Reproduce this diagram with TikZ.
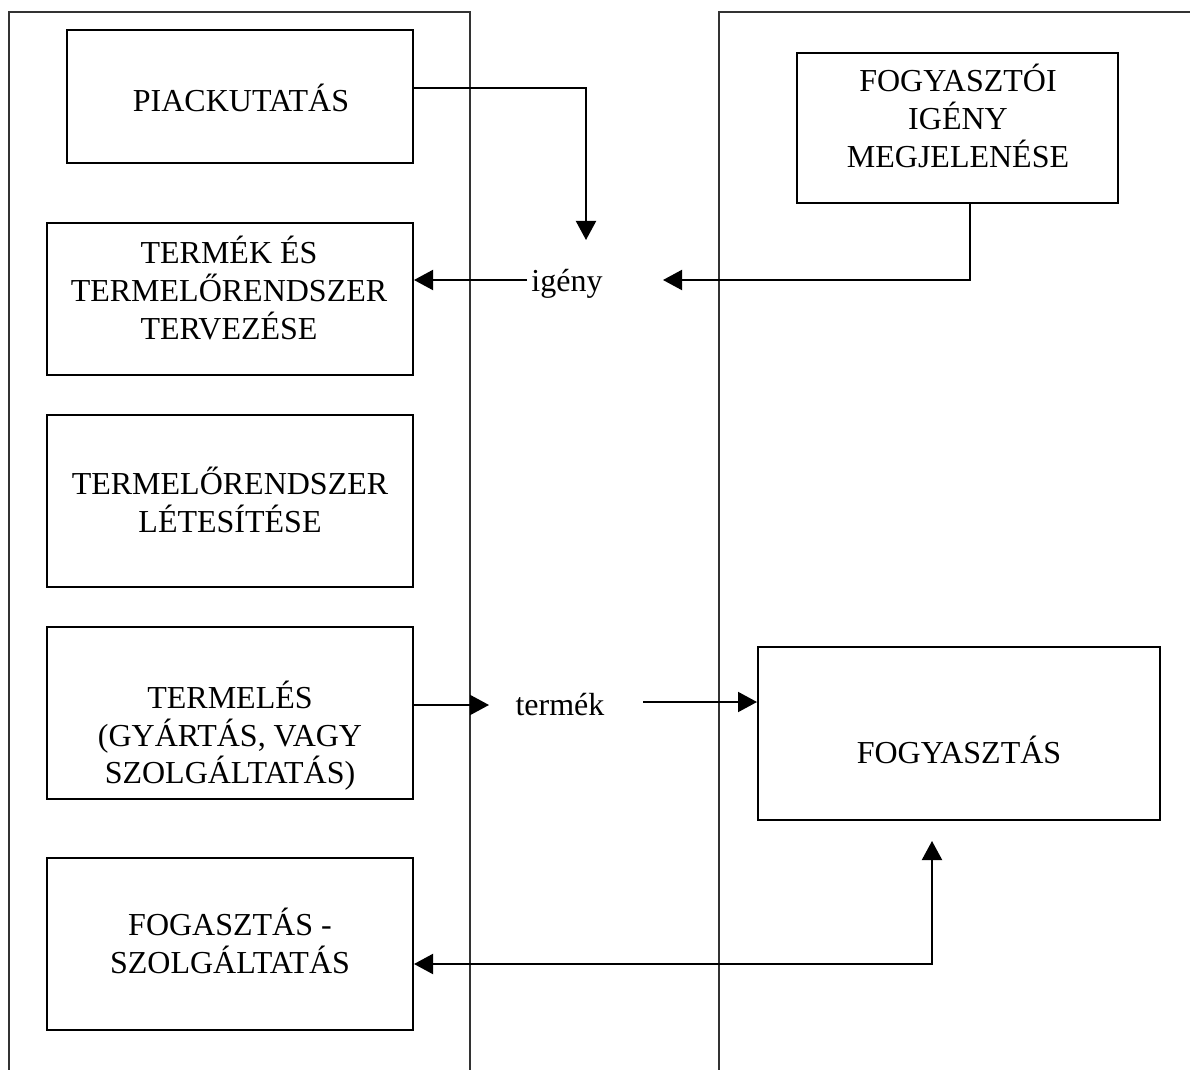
\documentclass[tikz,border=0pt]{standalone}
\usepackage{fontspec}
\setmainfont{Liberation Serif}
\usetikzlibrary{arrows.meta}
\begin{document}
\begin{tikzpicture}[x=0.5pt,y=-0.5pt,
  box/.style={draw,line width=1pt,inner sep=0pt,rectangle},
  txt/.style={align=center,font=\fontsize{16}{18.8}\selectfont,inner sep=0pt},
  lbl/.style={font=\fontsize{16}{18.8}\selectfont,inner sep=2pt},
  panel/.style={draw=black!80,line width=0.9pt},
  arr/.style={line width=1pt,-{Triangle[length=9.5pt,width=10pt]}},
  arrb/.style={line width=1pt,{Triangle[length=9.5pt,width=10pt]}-{Triangle[length=9.5pt,width=10pt]}}]
\useasboundingbox (0,0) rectangle (1190,1070);
\fill[white] (0,0) rectangle (1190,1070);
% panels
\draw[panel] (9,1072) -- (9,12) -- (470,12) -- (470,1072);
\draw[panel] (719,1072) -- (719,12) -- (1192,12);
% boxes
\node[box,minimum width=173pt,minimum height=66.5pt] (b1) at (240,96.5) {};
\node[box,minimum width=183pt,minimum height=76pt] (b2) at (230,299) {};
\node[box,minimum width=183pt,minimum height=86pt] (b3) at (230,501) {};
\node[box,minimum width=183pt,minimum height=86pt] (b4) at (230,713) {};
\node[box,minimum width=183pt,minimum height=86pt] (b5) at (230,944) {};
\node[box,minimum width=160.5pt,minimum height=75pt] (r1) at (957.5,128) {};
\node[box,minimum width=201pt,minimum height=86.5pt] (r2) at (959,733.5) {};
% texts
\node[txt] (t1) at (241,98) {PIACKUTATÁS};
\node[txt] (t2) at (229,288) {TERMÉK ÉS\\TERMELŐRENDSZER\\TERVEZÉSE};
\node[txt] (t3) at (230,500) {TERMELŐRENDSZER\\LÉTESÍTÉSE};
\node[txt] (t4) at (230,736) {TERMELÉS\\(GYÁRTÁS, VAGY\\SZOLGÁLTATÁS)};
\node[txt] (t5) at (230,941) {FOGASZTÁS -\\SZOLGÁLTATÁS};
\node[txt] (t6) at (958,116) {FOGYASZTÓI\\IGÉNY\\MEGJELENÉSE};
\node[txt] (t7) at (959,750) {FOGYASZTÁS};
\node[lbl,anchor=base] (ig) at (567,292) {igény};
\node[lbl,anchor=base] (tm) at (560,715) {termék};
% helper coordinates
\coordinate (y88) at (0,88);
\coordinate (c1) at (586,240);
\coordinate (y280) at (0,280);
\coordinate (x970) at (970,0);
\coordinate (c3) at (663,280);
\coordinate (c4) at (489,705);
\coordinate (s5) at (643,702);
\coordinate (c6) at (932,841);
\coordinate (y964) at (0,964);
% connectors
\draw[arr] (b1.east |- y88) -| (c1);
\draw[arr] (ig.west |- y280) -- (b2.east |- y280);
\draw[arr] (r1.south -| x970) |- (c3);
\draw[arr] (b4.east |- c4) -- (c4);
\draw[arr] (s5) -- (r2.west |- s5);
\draw[arrb] (b5.east |- y964) -| (c6);
\end{tikzpicture}
\end{document}
